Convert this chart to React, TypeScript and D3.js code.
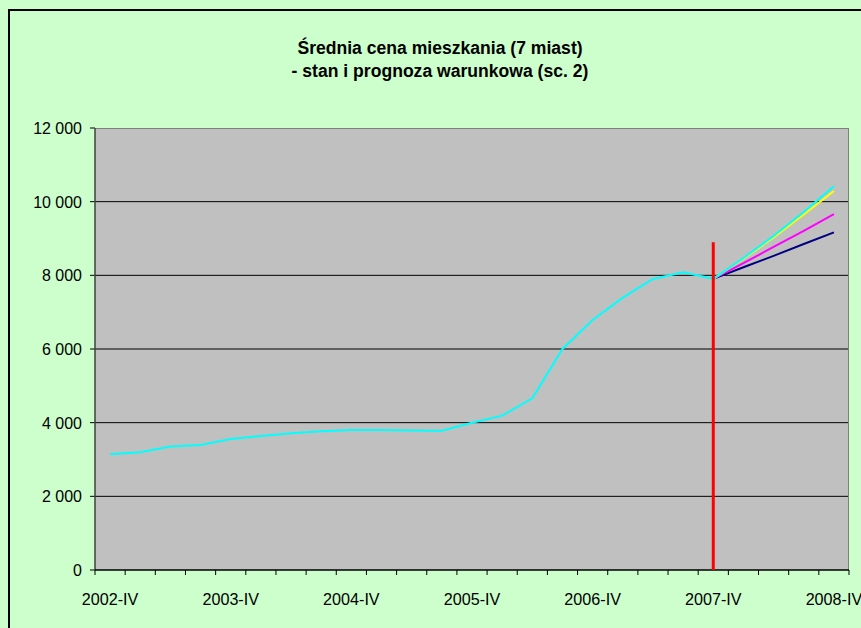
import React from "react";
import * as d3 from "d3";

const categories: string[] = (() => {
  const q = ["I", "II", "III", "IV"];
  const out: string[] = ["2002-IV"];
  for (let y = 2003; y <= 2008; y++) for (const r of q) out.push(`${y}-${r}`);
  return out;
})();

const history: (number | null)[] = [
  3140, 3195, 3350, 3395, 3557, 3640, 3711, 3765, 3800, 3800, 3790, 3782, 4000,
  4190, 4660, 6000, 6788, 7394, 7900, 8085, 7905,
];
const forecastCyan: number[] = [7905, 8470, 9070, 9720, 10420];
const forecastYellow: number[] = [7905, 8450, 9030, 9650, 10290];
const forecastMagenta: number[] = [7905, 8330, 8770, 9210, 9660];
const forecastNavy: number[] = [7905, 8220, 8530, 8850, 9165];
const forecastStart = 20;
const redLineIndex = 20;
const redLineTop = 8900;
const yTicks: number[] = [0, 2000, 4000, 6000, 8000, 10000, 12000];
const titleLines: string[] = [
  "Średnia cena mieszkania (7 miast)",
  "- stan i prognoza warunkowa (sc. 2)",
];

const W = 861;
const H = 628;
const left = 95;
const right = 849;
const top = 128;
const bottom = 570;
const font = "'Liberation Sans', Arial, sans-serif";

export default function App() {
  const x = d3.scaleBand<string>().domain(categories).range([left, right]).padding(0);
  const cx = (i: number) => (x(categories[i]) as number) + x.bandwidth() / 2;
  const y = d3.scaleLinear().domain([0, 12000]).range([bottom, top]);
  const fmt = (v: number) => d3.format(",")(v).replace(/,/g, " ");

  const line = d3
    .line<[number, number | null]>()
    .defined((d) => d[1] != null)
    .x((d) => cx(d[0]))
    .y((d) => y(d[1] as number));

  const hist = history.map((v, i) => [i, v] as [number, number | null]);
  const fc = (arr: number[]) =>
    arr.map((v, k) => [forecastStart + k, v] as [number, number | null]);

  const forecasts: [number[], string][] = [
    [forecastNavy, "#000080"],
    [forecastMagenta, "#FF00FF"],
    [forecastYellow, "#FFFF00"],
    [forecastCyan, "#00FFFF"],
  ];

  return (
    <svg
      width={W}
      height={H}
      style={{ position: "absolute", left: 0, top: 0, display: "block" }}
    >
      <rect x={0} y={0} width={W} height={H} fill="#CCFFCC" />
      <rect x={9} y={10} width={W + 20} height={H + 20} fill="none" stroke="#000" strokeWidth={2} />
      {titleLines.map((t, i) => (
        <text
          key={i}
          transform={`translate(440,${54 + i * 23}) scale(0.925,1)`}
          textAnchor="middle"
          fontFamily={font}
          fontWeight="bold"
          fontSize={19}
          fill="#000"
        >
          {t}
        </text>
      ))}
      <rect x={left} y={top} width={right - left} height={bottom - top} fill="#C0C0C0" />
      {yTicks.map((t) => (
        <g key={t}>
          {t > 0 && t < 12000 && (
            <line x1={left} x2={right} y1={y(t)} y2={y(t)} stroke="#000" strokeWidth={1} />
          )}
          <line x1={left - 5} x2={left} y1={y(t)} y2={y(t)} stroke="#000" strokeWidth={1} />
          <text
            transform={`translate(82,${y(t) + 6}) scale(0.94,1)`}
            textAnchor="end"
            fontFamily={font}
            fontSize={17}
            fill="#000"
          >
            {fmt(t)}
          </text>
        </g>
      ))}
      <line x1={left} x2={right} y1={top + 0.5} y2={top + 0.5} stroke="#808080" strokeWidth={1} />
      <line x1={right - 0.5} x2={right - 0.5} y1={top} y2={bottom} stroke="#808080" strokeWidth={1} />
      <line x1={left} x2={left} y1={top} y2={bottom} stroke="#404040" strokeWidth={1.5} />
      <line x1={left} x2={right} y1={bottom} y2={bottom} stroke="#000" strokeWidth={1.5} />
      {categories.map((c) => (
        <line
          key={c}
          x1={x(c) as number}
          x2={x(c) as number}
          y1={bottom}
          y2={bottom + 5}
          stroke="#000"
          strokeWidth={1}
        />
      ))}
      <line x1={right} x2={right} y1={bottom} y2={bottom + 5} stroke="#000" strokeWidth={1} />
      {categories.map((c, i) =>
        i % 4 === 0 ? (
          <text
            key={c}
            transform={`translate(${cx(i)},605) scale(0.95,1)`}
            textAnchor="middle"
            fontFamily={font}
            fontSize={17}
            fill="#000"
          >
            {c}
          </text>
        ) : null
      )}
      <path d={line(hist) || ""} fill="none" stroke="#00FFFF" strokeWidth={2} />
      {forecasts.map(([arr, col], i) => (
        <path key={i} d={line(fc(arr)) || ""} fill="none" stroke={col} strokeWidth={2} />
      ))}
      <line
        x1={cx(redLineIndex)}
        x2={cx(redLineIndex)}
        y1={y(redLineTop)}
        y2={bottom}
        stroke="#FF0000"
        strokeWidth={3}
      />
    </svg>
  );
}
